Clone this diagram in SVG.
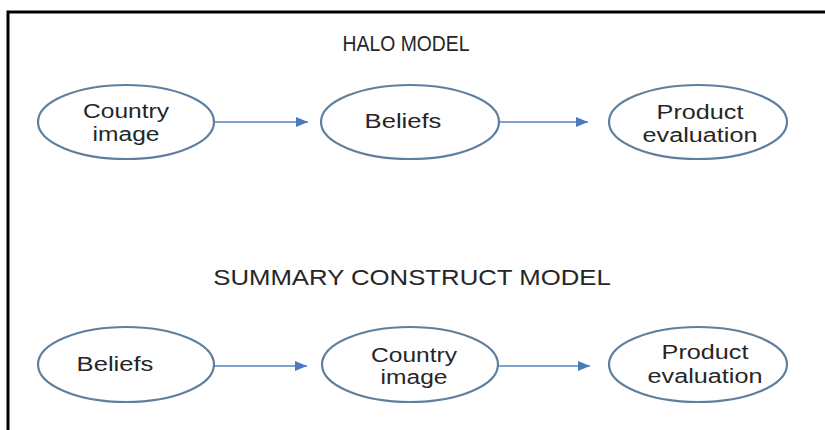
<svg xmlns="http://www.w3.org/2000/svg" width="825" height="430" viewBox="0 0 825 430">
  <style>
    .node ellipse { fill: #ffffff; stroke: #5f7f9e; stroke-width: 2.2; }
    .lbl { font-family: "Liberation Sans", Arial, sans-serif; font-size: 21px; fill: #262626; text-anchor: middle; }
    .title { font-family: "Liberation Sans", Arial, sans-serif; font-size: 22px; fill: #262626; text-anchor: middle; }
    .edge { stroke: #5585bd; stroke-width: 1.6; fill: none; marker-end: url(#arr); }
  </style>
  <defs>
    <marker id="arr" markerUnits="userSpaceOnUse" markerWidth="12" markerHeight="12" viewBox="0 0 12 12" refX="12" refY="6" orient="auto">
      <path d="M0,1 L12,6 L0,11 Z" fill="#4a7bc0"/>
    </marker>
  </defs>
  <rect x="0" y="0" width="825" height="430" fill="#ffffff"/>
  <path d="M8,430 V12 H825" fill="none" stroke="#000000" stroke-width="3"/>

  <text class="title" transform="translate(406,51) scale(0.88,1)">HALO MODEL</text>
  <text class="title" transform="translate(412,285) scale(1.17,1)">SUMMARY CONSTRUCT MODEL</text>

  <g id="connectors">
    <line class="edge" x1="214" y1="122" x2="308" y2="122"/>
    <line class="edge" x1="499" y1="122" x2="588" y2="122"/>
    <line class="edge" x1="214" y1="366" x2="307" y2="366"/>
    <line class="edge" x1="498" y1="366" x2="590" y2="366"/>
  </g>

  <g id="halo-country-image" class="node">
    <ellipse cx="126" cy="122" rx="88" ry="37"/>
    <text class="lbl" transform="translate(126,118) scale(1.17,1)">Country</text>
    <text class="lbl" transform="translate(126,141) scale(1.17,1)">image</text>
  </g>
  <g id="halo-beliefs" class="node">
    <ellipse cx="410" cy="122" rx="89" ry="37"/>
    <text class="lbl" transform="translate(403,128) scale(1.22,1)">Beliefs</text>
  </g>
  <g id="halo-product-evaluation" class="node">
    <ellipse cx="698" cy="122" rx="89" ry="37"/>
    <text class="lbl" transform="translate(700,119) scale(1.2,1)">Product</text>
    <text class="lbl" transform="translate(700,142) scale(1.2,1)">evaluation</text>
  </g>

  <g id="sc-beliefs" class="node">
    <ellipse cx="126" cy="364.5" rx="88" ry="37.5"/>
    <text class="lbl" transform="translate(115,371) scale(1.22,1)">Beliefs</text>
  </g>
  <g id="sc-country-image" class="node">
    <ellipse cx="410" cy="364.5" rx="88" ry="37.5"/>
    <text class="lbl" transform="translate(414,362) scale(1.17,1)">Country</text>
    <text class="lbl" transform="translate(414,384) scale(1.17,1)">image</text>
  </g>
  <g id="sc-product-evaluation" class="node">
    <ellipse cx="698" cy="364.5" rx="89" ry="37.5"/>
    <text class="lbl" transform="translate(705,359) scale(1.2,1)">Product</text>
    <text class="lbl" transform="translate(705,383) scale(1.2,1)">evaluation</text>
  </g>
</svg>
